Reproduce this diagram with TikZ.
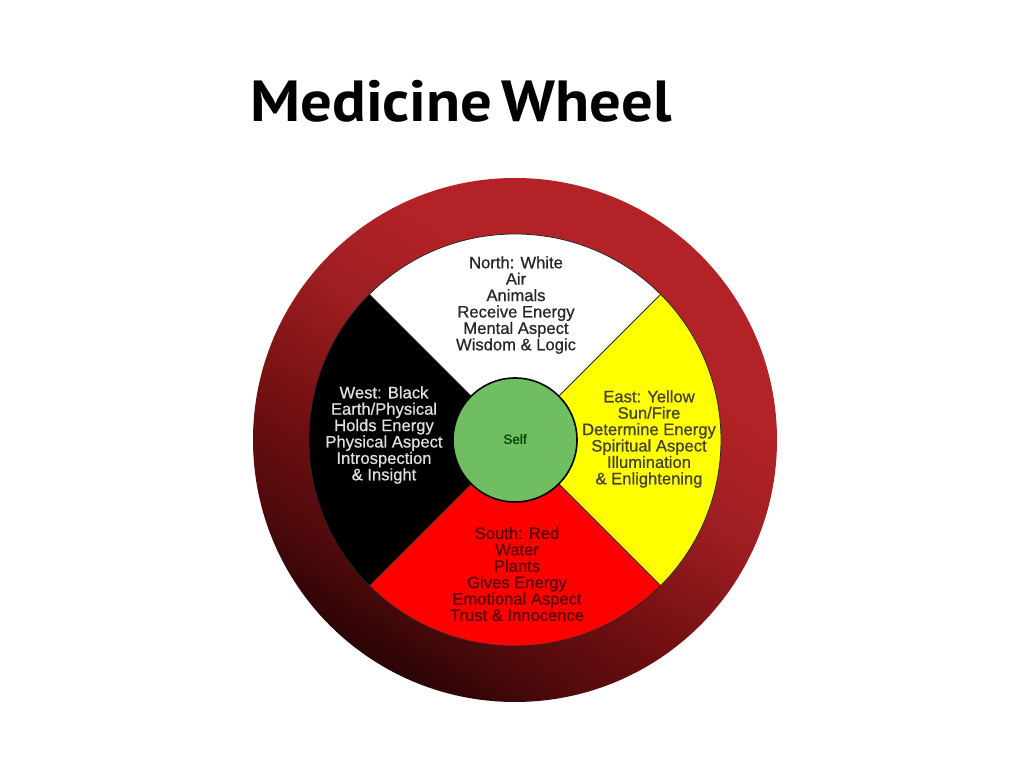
\documentclass[tikz,border=0pt]{standalone}
\usepackage{fontspec}
\usetikzlibrary{calc}
\setmainfont[FakeBold=0.7]{Liberation Sans}
\newfontfamily\titlefont[FakeStretch=1.08]{PT Sans}
\definecolor{ringred}{RGB}{178,34,38}
\definecolor{ringmid}{RGB}{118,16,19}
\definecolor{ringdark}{RGB}{32,2,2}
\definecolor{selfgreen}{RGB}{112,190,98}
\definecolor{wheelyellow}{RGB}{255,255,0}
\definecolor{wheelred}{RGB}{255,0,0}
% dark at the lower left, full red from the middle up
\pgfdeclareverticalshading{ringshade}{100bp}{color(0bp)=(ringdark); color(23bp)=(ringdark);
  color(32bp)=(ringmid!55!ringdark); color(42bp)=(ringmid); color(53bp)=(ringred!88!black);
  color(63bp)=(ringred); color(100bp)=(ringred)}

\begin{document}
\begin{tikzpicture}[x=1pt, y=1pt,
    quarter/.style = {draw=black!85, line width=0.8pt},
    lbl/.style = {align=center, font=\fontsize{16.6}{16.4}\selectfont},
  ]
  \useasboundingbox (0,0) rectangle (1024,768);

  \coordinate (hub) at (515,328);

  % outer ring
  \shade[shading=ringshade, shading angle=-32] (hub) circle (262pt);

  % the four directions
  \fill[white] (hub) -- ++(45:206pt) arc[start angle=45, end angle=135, radius=206pt] -- cycle;
  \fill[black] (hub) -- ++(135:206pt) arc[start angle=135, end angle=225, radius=206pt] -- cycle;
  \fill[wheelred] (hub) -- ++(225:206pt) arc[start angle=225, end angle=315, radius=206pt] -- cycle;
  \fill[wheelyellow] (hub) -- ++(-45:206pt) arc[start angle=-45, end angle=45, radius=206pt] -- cycle;
  \draw[quarter] (hub) circle (206pt);
  \draw[quarter] ($(hub)+(45:206pt)$) -- ($(hub)+(225:206pt)$);
  \draw[quarter] ($(hub)+(135:206pt)$) -- ($(hub)+(-45:206pt)$);

  \node[lbl, text=black!85] (north) at (516,463) {North: White\\Air\\Animals\\Receive Energy\\Mental Aspect\\Wisdom \& Logic};
  \node[lbl, text=black!12] (west) at (384,333) {West: Black\\Earth/Physical\\Holds Energy\\Physical Aspect\\Introspection\\\& Insight};
  \node[lbl, text=black!85!yellow] (east) at (649,329) {East: Yellow\\Sun/Fire\\Determine Energy\\Spiritual Aspect\\Illumination\\\& Enlightening};
  \node[lbl, text=black!65!red] (south) at (517,194) {South: Red\\Water\\Plants\\Gives Energy\\Emotional Aspect\\Trust \& Innocence};

  \node[circle, draw=black, line width=1.6pt, fill=selfgreen, minimum size=124pt,
    text=black!75!green, font=\fontsize{13.5}{14}\selectfont] (self) at (hub) {\raisebox{2pt}{Self}};

  \node[anchor=base, font=\titlefont\bfseries\fontsize{58}{60}\selectfont] (title) at (461,646) {Medicine\hspace{9pt}Wheel};
\end{tikzpicture}
\end{document}
